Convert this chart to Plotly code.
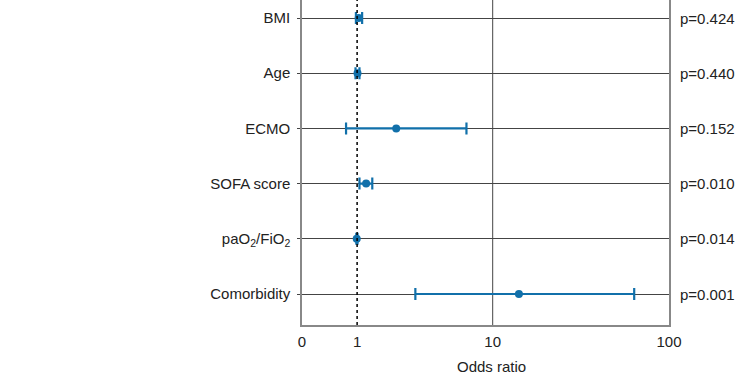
import plotly.graph_objects as go

categories = ["BMI", "Age", "ECMO", "SOFA score", "paO<sub>2</sub>/FiO<sub>2</sub>", "Comorbidity"]
odds_ratio = [1.04, 1.01, 2.27, 1.24, 0.99, 14.3]
ci_low = [0.97, 0.96, 0.74, 1.06, 0.98, 3.16]
ci_high = [1.13, 1.06, 6.91, 1.42, 1.01, 64.2]
p_values = ["0.424", "0.440", "0.152", "0.010", "0.014", "0.001"]
tick_values = [0, 1, 10, 100]

# axis plots log10(1 + OR)
n = len(categories)
ypos = [n - 1 - i for i in range(n)]
xs = [v + 1 for v in odds_ratio]
lo = [v + 1 for v in ci_low]
hi = [v + 1 for v in ci_high]

FONT = "Liberation Sans, Arial, Helvetica"
blue = "#1170aa"
fig = go.Figure()
fig.add_trace(go.Scatter(
    x=xs, y=ypos, mode="markers",
    marker=dict(color=blue, size=8),
    error_x=dict(type="data", symmetric=False,
                 array=[h - x for h, x in zip(hi, xs)],
                 arrayminus=[x - l for x, l in zip(xs, lo)],
                 color=blue, thickness=2.2, width=6),
    showlegend=False, hoverinfo="skip",
))

fig.add_shape(type="line", xref="x", yref="paper", x0=2, x1=2, y0=0, y1=1,
              line=dict(color="black", width=1.5, dash="dot"))
fig.add_shape(type="line", xref="x", yref="paper", x0=11, x1=11, y0=0, y1=1,
              line=dict(color="#444", width=1), layer="below")

for yv, p in zip(ypos, p_values):
    fig.add_annotation(xref="paper", yref="y", x=1, y=yv, xanchor="left",
                       xshift=9, showarrow=False,
                       text="p=" + p,
                       font=dict(size=15, color="#222", family=FONT))

fig.add_annotation(xref="paper", yref="paper", x=0.517, y=0, yshift=-41,
                   xanchor="center", yanchor="middle", showarrow=False,
                   text="Odds ratio", font=dict(size=15, color="#222", family=FONT))

fig.update_layout(
    width=737, height=377,
    margin=dict(l=302, r=68, t=0, b=52),
    plot_bgcolor="white", paper_bgcolor="white",
    font=dict(family=FONT, size=15, color="#222"),
    xaxis=dict(type="log", range=[0, 2.0043],
               tickvals=[t + 1 for t in tick_values],
               ticktext=[str(t) for t in tick_values],
               showgrid=False, zeroline=False, showline=True,
               linecolor="#888", linewidth=1.5, ticks="",
               ticklabelstandoff=2),
    yaxis=dict(range=[-0.5616, 5.326], tickvals=ypos, ticktext=categories,
               showgrid=True, gridcolor="#444", gridwidth=1,
               zeroline=False, showline=True, linecolor="#888", linewidth=1.5,
               mirror=True, ticks="outside", ticklen=3, tickcolor="#444",
               ticklabelstandoff=4),
)

fig.write_html("out.html", config={"displayModeBar": False},
               post_script="document.body.style.margin='0';document.body.style.padding='0';")
